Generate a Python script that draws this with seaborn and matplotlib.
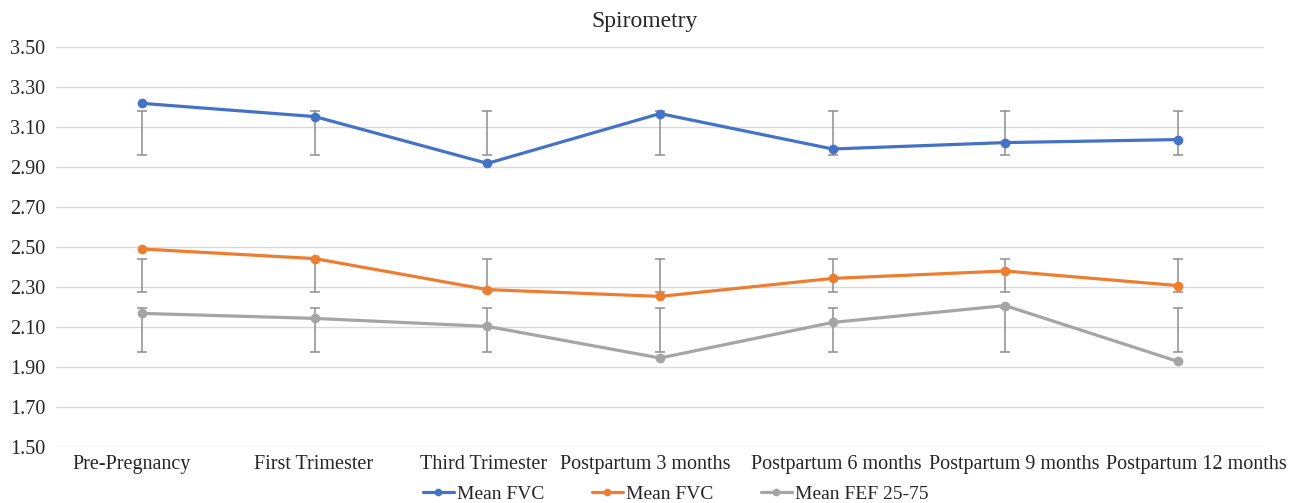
import numpy as np
import pandas as pd
import matplotlib
matplotlib.use("Agg")
import matplotlib.pyplot as plt
import matplotlib.transforms as mtransforms
import seaborn as sns
from matplotlib.lines import Line2D

categories = ["Pre-Pregnancy", "First Trimester", "Third Trimester", "Postpartum 3 months",
              "Postpartum 6 months", "Postpartum 9 months", "Postpartum 12 months"]
series_names = ["Mean FVC", "Mean FVC ", "Mean FEF 25-75"]
fvc_blue = [3.218, 3.152, 2.918, 3.167, 2.990, 3.022, 3.037]
fvc_orange = [2.490, 2.442, 2.287, 2.253, 2.343, 2.380, 2.307]
fef = [2.168, 2.143, 2.103, 1.945, 2.123, 2.207, 1.928]
# error bar extents (low, high), same for every point of a series
err_blue = (2.96, 3.18)
err_orange = (2.275, 2.44)
err_gray = (1.975, 2.195)

colors = ["#4472C4", "#ED7D31", "#A5A5A5"]

sns.set_theme(style="white")
plt.rcParams["font.family"] = ["Liberation Serif", "DejaVu Serif"]

fig = plt.figure(figsize=(12.99, 5.03), dpi=100)
ax = fig.add_axes([0.0431, 0.1113, 0.9300, 0.7953])

idx = np.arange(len(categories))
frames = []
for name, vals in zip(series_names, [fvc_blue, fvc_orange, fef]):
    frames.append(pd.DataFrame({"x": idx, "y": vals, "series": name}))
df = pd.concat(frames, ignore_index=True)

# error bars (drawn behind lines)
for lo_hi in [err_blue, err_orange, err_gray]:
    lo, hi = lo_hi
    mid = (lo + hi) / 2
    ax.errorbar(idx, [mid] * len(idx), yerr=[(hi - lo) / 2] * len(idx), fmt="none",
                ecolor="#8E8E8E", elinewidth=1.1, capsize=3.5, capthick=1.1, zorder=2)

sns.lineplot(data=df, x="x", y="y", hue="series", palette=colors, marker="o",
             markersize=7, markeredgewidth=0, linewidth=2.3, sort=False,
             ax=ax, legend=False, zorder=3)

ax.set_xlim(-0.5, len(categories) - 0.5)
ax.set_ylim(1.5, 3.5)
yt = np.arange(1.5, 3.51, 0.2)
ax.set_yticks(yt)
ax.set_yticklabels([f"{v:.2f}" for v in yt], fontsize=14.5)
ax.set_xticks(idx)
ax.set_xticklabels(categories, fontsize=14.5)
ax.tick_params(axis="both", length=0)
ax.tick_params(axis="x", pad=6)
ax.tick_params(axis="y", pad=33)
for lab in ax.get_yticklabels():
    lab.set_horizontalalignment("left")
# small horizontal shifts of the category labels (pixels), as laid out in the reference
label_shift_px = [-11, -1, -4, -15, 4, 9, 19]
for lab, dx in zip(ax.get_xticklabels(), label_shift_px):
    lab.set_transform(lab.get_transform() +
                      mtransforms.ScaledTranslation(dx / 100, 0, fig.dpi_scale_trans))
ax.grid(axis="y", color="#D9D9D9", linewidth=1)
ax.set_axisbelow(True)
for s in ax.spines.values():
    s.set_visible(False)
ax.set_xlabel("")
ax.set_ylabel("")

fig.text(0.4965, 0.958, "Spirometry", ha="center", va="center", fontsize=17)

handles = [Line2D([0], [0], color=c, lw=2.3, marker="o", markersize=5.5, markeredgewidth=0)
           for c in colors]
fig.legend(handles, ["Mean FVC", "Mean FVC", "Mean FEF 25-75"], loc="center",
           bbox_to_anchor=(0.520, 0.018), ncol=3, frameon=False, fontsize=14,
           handlelength=1.6, handletextpad=0.15, columnspacing=2.45)

fig.savefig("out.png", dpi=100)
